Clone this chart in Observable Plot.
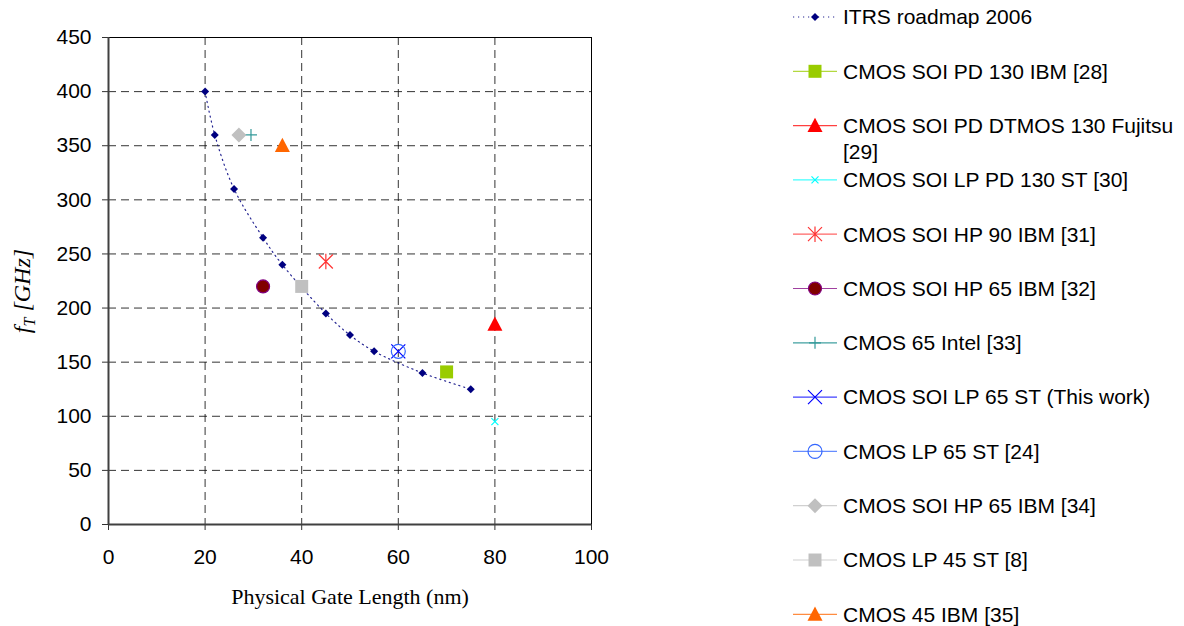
<!DOCTYPE html>
<html><head><meta charset="utf-8">
<script src="https://cdn.jsdelivr.net/npm/d3@7"></script>
<script src="https://cdn.jsdelivr.net/npm/@observablehq/plot@0.6"></script>
<style>
body{margin:0;background:#fff;}
#chart{position:relative;width:1184px;height:626px;overflow:hidden;}
</style>
</head><body><div id="chart"></div>
<script>
// ---- data ----
const itrsLabel = "ITRS roadmap 2006";
const itrsLength = [20, 22, 26, 32, 36, 45, 50, 55, 65, 75];
const itrsFt = [400, 360, 310, 265, 240, 195, 175, 160, 140, 125];

const deviceNames = [
  "CMOS SOI PD 130 IBM [28]",
  "CMOS SOI PD DTMOS 130 Fujitsu\n[29]",
  "CMOS SOI LP PD 130 ST [30]",
  "CMOS SOI HP 90 IBM [31]",
  "CMOS SOI HP 65 IBM [32]",
  "CMOS 65 Intel [33]",
  "CMOS SOI LP 65 ST (This work)",
  "CMOS LP 65 ST [24]",
  "CMOS SOI HP 65 IBM [34]",
  "CMOS LP 45 ST [8]",
  "CMOS 45 IBM [35]"
];
const deviceLength = [70, 80, 80, 45, 32, 29.5, 60, 60, 27, 40, 36];
const deviceFt = [141, 185, 95, 243, 220, 360, 160, 160, 360, 220, 350];

const xTicks = [0, 20, 40, 60, 80, 100];
const yTicks = [0, 50, 100, 150, 200, 250, 300, 350, 400, 450];
const xLabel = "Physical Gate Length (nm)";

// ---- symbols (half-extent h derived from size = h*h*PI) ----
const H = s => Math.sqrt(s / Math.PI);
const sym = {
  diamond: {draw(c, s){const h=H(s); c.moveTo(0,-h); c.lineTo(h,0); c.lineTo(0,h); c.lineTo(-h,0); c.closePath();}},
  square: {draw(c, s){const h=H(s); c.rect(-h,-h,2*h,2*h);}},
  triangle: {draw(c, s){const h=H(s); c.moveTo(0,-h*1.05); c.lineTo(h,h*0.85); c.lineTo(-h,h*0.85); c.closePath();}},
  times: {draw(c, s){const h=H(s); c.moveTo(-h,-h); c.lineTo(h,h); c.moveTo(h,-h); c.lineTo(-h,h);}},
  plus: {draw(c, s){const h=H(s); c.moveTo(-h,0); c.lineTo(h,0); c.moveTo(0,-h); c.lineTo(0,h);}},
  asterisk: {draw(c, s){const h=H(s); c.moveTo(-h,-h); c.lineTo(h,h); c.moveTo(h,-h); c.lineTo(-h,h); c.moveTo(0,-h*1.1); c.lineTo(0,h*1.1);}},
  circle: {draw(c, s){const h=H(s); c.moveTo(h,0); c.arc(0,0,h,0,2*Math.PI);}}
};

// styles per device (same order as deviceNames)
const deviceStyle = [
  {symbol: sym.square,   r: 6.5, fill: "#99CC00", stroke: "none",    line: "#99CC00"},
  {symbol: sym.triangle, r: 7.5, fill: "#FF0000", stroke: "none",    line: "#FF0000"},
  {symbol: sym.times,    r: 3.5, fill: "none",    stroke: "#00FFFF", line: "#00FFFF"},
  {symbol: sym.asterisk, r: 7,   fill: "none",    stroke: "#FF3333", line: "#FF3333"},
  {symbol: sym.circle,   r: 6.5, fill: "#800000", stroke: "#800080", line: "#800080"},
  {symbol: sym.plus,     r: 6,   fill: "none",    stroke: "#339999", line: "#008080"},
  {symbol: sym.times,    r: 7,   fill: "none",    stroke: "#0000FF", line: "#0000FF"},
  {symbol: sym.circle,   r: 7,   fill: "none",    stroke: "#3366FF", line: "#3366FF"},
  {symbol: sym.diamond,  r: 7.5, fill: "#C0C0C0", stroke: "none",    line: "#C0C0C0"},
  {symbol: sym.square,   r: 6.5, fill: "#C0C0C0", stroke: "none",    line: "#C0C0C0"},
  {symbol: sym.triangle, r: 7.5, fill: "#FF6600", stroke: "none",    line: "#FF6600"}
];
const itrsStyle = {symbol: sym.diamond, r: 4, fill: "#000080", stroke: "none", line: "#000080"};

const itrs = itrsLength.map((x, i) => ({x, y: itrsFt[i]}));

const marks = [
  Plot.gridX(xTicks.slice(1, -1), {stroke: "#111", strokeOpacity: 0.85, strokeDasharray: "8,5"}),
  Plot.gridY(yTicks.slice(1, -1), {stroke: "#111", strokeOpacity: 0.85, strokeDasharray: "8,5"}),
  Plot.ruleY([yTicks[yTicks.length - 1]], {stroke: "#000", strokeWidth: 1}),
  Plot.ruleX([xTicks[xTicks.length - 1]], {stroke: "#000", strokeWidth: 1}),
  Plot.axisX(xTicks, {tickSize: 6, tickPadding: 19, label: null, stroke: "#333", fontSize: 21, fill: "#000"}),
  Plot.axisY(yTicks, {tickSize: 6, tickPadding: 11, label: null, stroke: "#333", fontSize: 21, fill: "#000"}),
  Plot.ruleX([xTicks[0]], {stroke: "#404040", strokeWidth: 2}),
  Plot.ruleY([yTicks[0]], {stroke: "#404040", strokeWidth: 2}),
  Plot.line(itrs, {x: "x", y: "y", curve: "catmull-rom", stroke: "#000080", strokeWidth: 1.2, strokeOpacity: 0.85, strokeDasharray: "1.2,3.8"}),
  Plot.dot(itrs, {x: "x", y: "y", symbol: itrsStyle.symbol, r: itrsStyle.r, fill: itrsStyle.fill, stroke: "none"}),
  ...deviceStyle.map((st, i) => Plot.dot([i], {
    x: j => deviceLength[j], y: j => deviceFt[j],
    symbol: st.symbol, r: st.r, fill: st.fill, stroke: st.stroke, strokeWidth: 1.2
  })),
  Plot.text([xLabel], {text: d => d, frameAnchor: "bottom", dy: 79, fontFamily: "Liberation Serif, Times New Roman, serif", fontSize: 22, fill: "#000"})
];

const chart = Plot.plot({
  width: 1184, height: 626,
  marginLeft: 108, marginRight: 593, marginTop: 37, marginBottom: 102,
  x: {domain: [xTicks[0], xTicks[xTicks.length - 1]]},
  y: {domain: [yTicks[0], yTicks[yTicks.length - 1]]},
  style: {fontFamily: "Liberation Sans, Arial, sans-serif", fontSize: "21px", background: "#fff", color: "#000"},
  marks
});
document.getElementById("chart").appendChild(chart);

// ---- y axis title with subscript ----
const svg = d3.select(chart);
const yt = svg.append("text")
  .attr("transform", "translate(30,291) rotate(-90)")
  .attr("text-anchor", "middle")
  .attr("font-family", "Liberation Serif, Times New Roman, serif")
  .attr("font-style", "italic")
  .attr("font-size", 24)
  .attr("fill", "#000");
yt.append("tspan").text("f");
yt.append("tspan").attr("font-size", 16).attr("dy", 5).text("T");
yt.append("tspan").attr("dy", -5).text(" [GHz]");

// ---- legend ----
const legendItems = [{name: itrsLabel, st: itrsStyle, dotted: true},
  ...deviceNames.map((name, i) => ({name, st: deviceStyle[i]}))];
const lg = svg.append("g").attr("text-anchor", "start");
legendItems.forEach((it, i) => {
  const cy = 17 + i * 54.3;
  const g = lg.append("g").attr("transform", `translate(0,${cy})`);
  g.append("line").attr("x1", 793).attr("x2", 837).attr("y1", 0).attr("y2", 0)
    .attr("stroke", it.st.line).attr("stroke-width", it.dotted ? 1.2 : 1.2)
    .attr("stroke-opacity", it.dotted ? 0.85 : 0.75)
    .attr("stroke-dasharray", it.dotted ? "1.2,3.8" : null);
  const p = d3.path();
  it.st.symbol.draw(p, it.st.r * it.st.r * Math.PI);
  g.append("path").attr("transform", "translate(815,0)").attr("d", p.toString())
    .attr("fill", it.st.fill).attr("stroke", it.st.stroke).attr("stroke-width", 1.2);
  const t = g.append("text").attr("x", 843).attr("y", 0).attr("text-anchor", "start")
    .attr("font-family", "Liberation Sans, Arial, sans-serif").attr("font-size", 21).attr("fill", "#000");
  it.name.split("\n").forEach((line, k) => {
    t.append("tspan").attr("x", 843).attr("dy", k === 0 ? "0.35em" : 26).text(line);
  });
});
</script>
</body></html>
